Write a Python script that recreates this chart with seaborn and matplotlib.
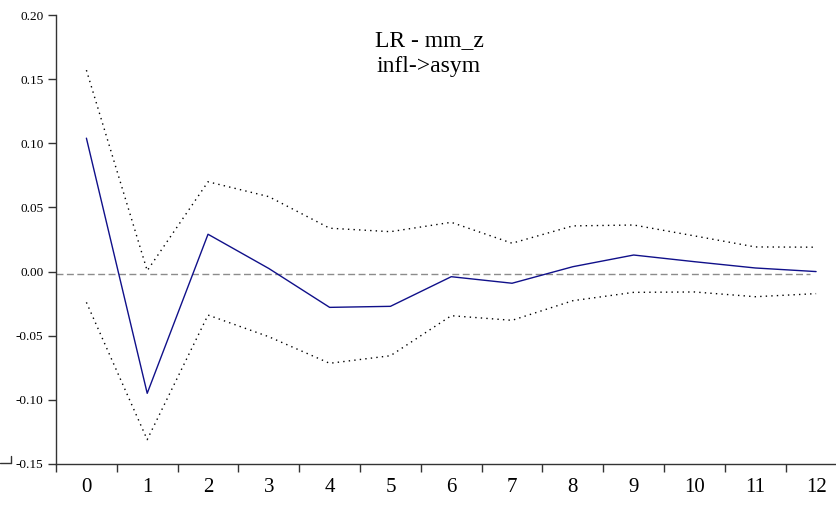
import matplotlib
matplotlib.use("Agg")
import matplotlib.pyplot as plt
from matplotlib.lines import Line2D
from matplotlib.ticker import FixedLocator, FixedFormatter
import seaborn as sns
import numpy as np
import pandas as pd

periods = ["0", "1", "2", "3", "4", "5", "6", "7", "8", "9", "10", "11", "12"]
response = [0.104, -0.0949, 0.0291, 0.0024, -0.0279, -0.0271, -0.0040, -0.0091,
            0.0038, 0.0129, 0.0077, 0.0028, 0.0000]
upper = [0.157, 0.0007, 0.070, 0.0584, 0.0338, 0.0311, 0.0384, 0.0221,
         0.0356, 0.0363, 0.0278, 0.0192, 0.0190]
lower = [-0.024, -0.131, -0.0339, -0.0508, -0.0715, -0.0656, -0.0344, -0.0380,
         -0.0227, -0.0162, -0.0159, -0.0196, -0.0172]
baseline = -0.0016
title_lines = ["LR - mm_z", "infl->asym"]
yticks = [-0.15, -0.10, -0.05, 0.00, 0.05, 0.10, 0.15, 0.20]

sns.set_theme(style="white")
plt.rcParams["font.family"] = ["Liberation Serif", "DejaVu Serif"]

df = pd.DataFrame({
    "pos": np.arange(len(periods)),
    "response": response,
    "upper": upper,
    "lower": lower,
})

fig = plt.figure(figsize=(8.36, 5.05), dpi=100)
W, H = 836, 505
x0, x1 = 56, 846.5
y_top, y_bot = 15, 464
ax = fig.add_axes([x0 / W, (H - y_bot) / H, (x1 - x0) / W, (y_bot - y_top) / H])

ax.axhline(baseline, xmin=0, xmax=(11.9 + 0.5) / 13, color="#8c8c8c",
           lw=1.0, ls=(0, (5, 2.5)), zorder=1)
sns.lineplot(data=df, x="pos", y="upper", ax=ax, color="black", lw=1.0,
             linestyle=(0, (1, 3)), zorder=2)
sns.lineplot(data=df, x="pos", y="lower", ax=ax, color="black", lw=1.0,
             linestyle=(0, (1, 3)), zorder=2)
sns.lineplot(data=df, x="pos", y="response", ax=ax, color="#10108a", lw=1.0,
             zorder=3)

ax.set_xlim(-0.5, len(periods) - 0.5)
ax.set_ylim(-0.15, 0.20)
ax.set_xlabel("")
ax.set_ylabel("")

ax.xaxis.set_major_locator(FixedLocator(list(range(len(periods)))))
ax.xaxis.set_major_formatter(FixedFormatter(periods))
ax.xaxis.set_minor_locator(FixedLocator([i - 0.5 for i in range(len(periods) + 1)]))
ax.tick_params(axis="x", which="major", length=0, pad=10, labelsize=15,
               labelcolor="black")
ax.tick_params(axis="x", which="minor", length=6, width=1.0, color="#333333",
               direction="out", bottom=True)

ax.set_yticks(yticks)
ax.set_yticklabels([f"{v:.2f}" for v in yticks])
ax.tick_params(axis="y", which="major", length=6, width=1.0, color="#333333",
               direction="out", left=True, labelsize=9.5, pad=3,
               labelcolor="black")

for s in ["top", "right"]:
    ax.spines[s].set_visible(False)
for s in ["left", "bottom"]:
    ax.spines[s].set_color("#333333")
    ax.spines[s].set_linewidth(1.0)

fig.text(429 / W, 1 - 46 / H, title_lines[0], ha="center", va="baseline",
         fontsize=17, color="black")
fig.text(429 / W, 1 - 72 / H, title_lines[1], ha="center", va="baseline",
         fontsize=17, color="black")

fig.add_artist(Line2D([0, 10.5 / W], [1 - 462.5 / H, 1 - 462.5 / H],
                      transform=fig.transFigure, color="#333333", lw=1.0))
fig.add_artist(Line2D([10.5 / W, 10.5 / W], [1 - 462.5 / H, 1 - 456 / H],
                      transform=fig.transFigure, color="#333333", lw=1.0))

fig.savefig("out.png", dpi=100)
